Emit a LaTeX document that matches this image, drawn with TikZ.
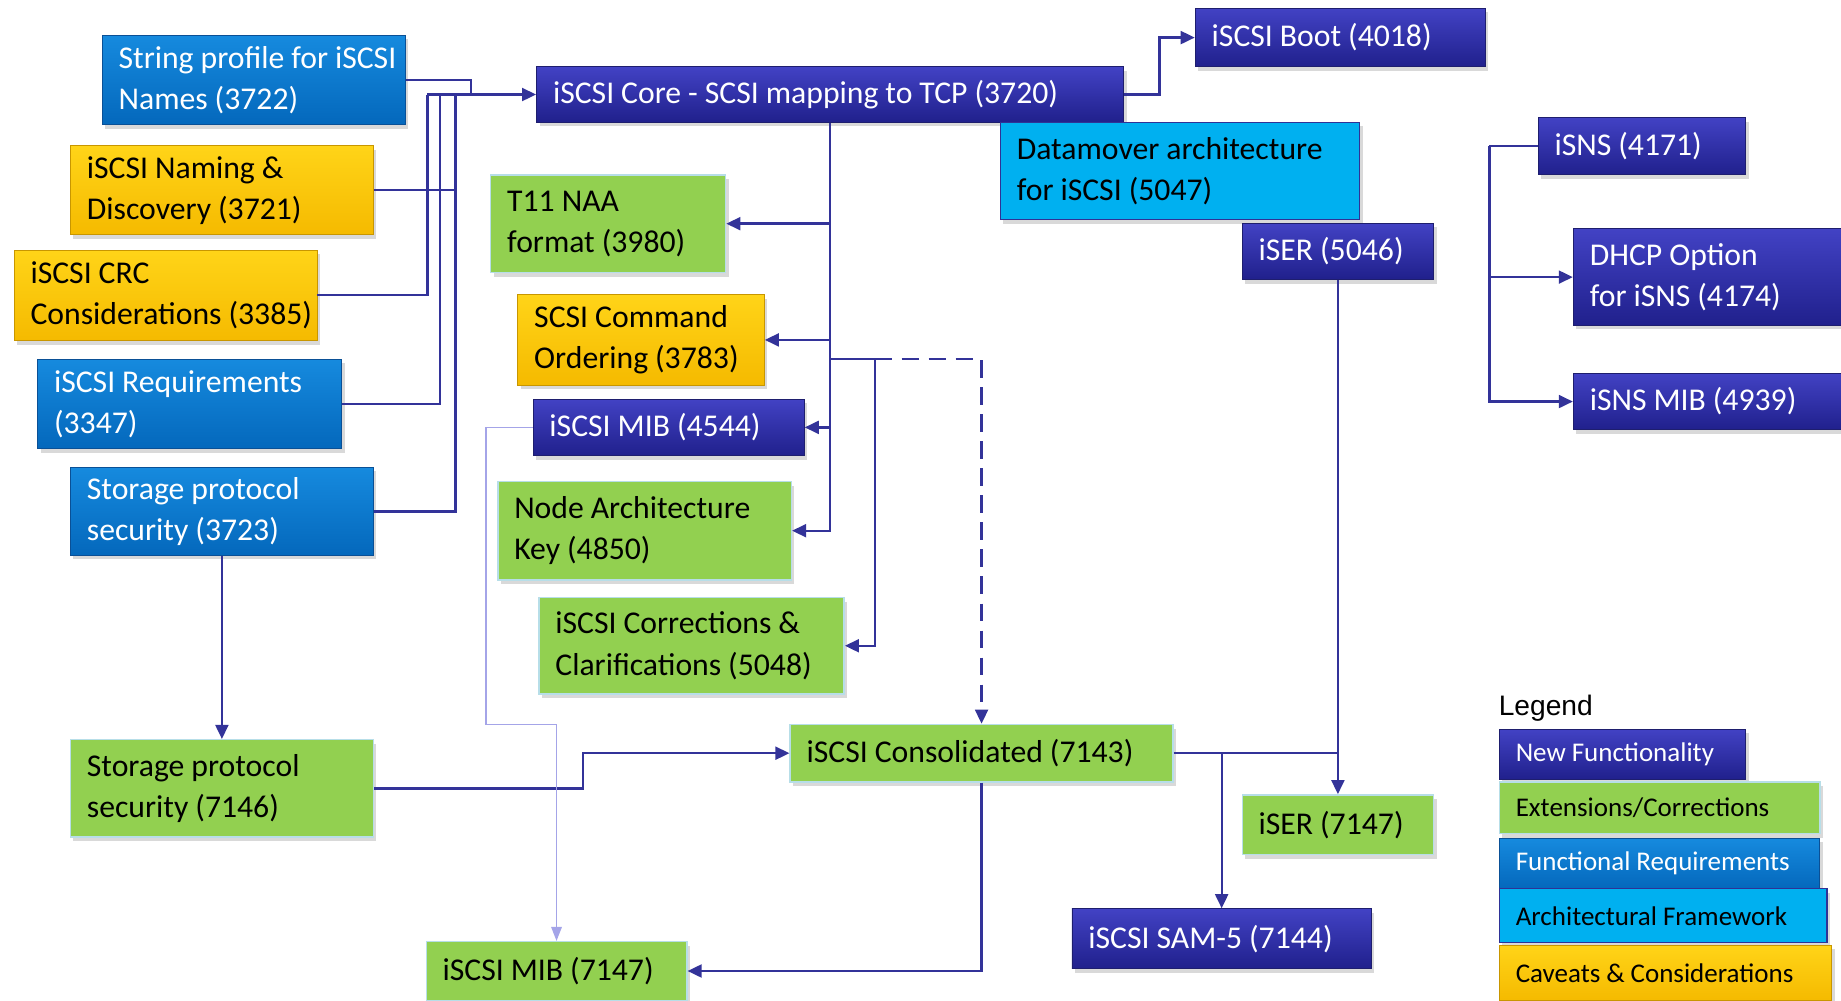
\documentclass[tikz,border=0pt]{standalone}
\usepackage{fontspec}
\setmainfont{Carlito}
\newfontfamily\legendfont{Liberation Sans}
\usepackage{tikz}
\usetikzlibrary{arrows.meta, positioning, calc, shadows}

\definecolor{nfTop}{RGB}{66,66,196}
\definecolor{nfBot}{RGB}{32,32,140}
\definecolor{nfLine}{RGB}{30,30,110}
\definecolor{frTop}{RGB}{22,138,222}
\definecolor{frBot}{RGB}{4,104,188}
\definecolor{frLine}{RGB}{10,80,150}
\definecolor{cvTop}{RGB}{255,212,24}
\definecolor{cvBot}{RGB}{245,186,0}
\definecolor{cvLine}{RGB}{200,150,0}
\definecolor{extGreen}{RGB}{146,208,80}
\definecolor{extLine}{RGB}{183,222,232}
\definecolor{afCyan}{RGB}{0,176,240}
\definecolor{afLine}{RGB}{47,50,150}
\definecolor{lineC}{RGB}{51,51,153}
\definecolor{lavC}{RGB}{164,164,232}

\newcommand\boxfont{\fontsize{27}{35}\selectfont}
\newcommand\legfont{\fontsize{23}{27}\selectfont}

\tikzset{
  box/.style={rectangle, inner xsep=14pt, inner ysep=0pt, align=left, font=\boxfont,
    execute at begin node={\spaceskip=0.22em\relax\hyphenpenalty=10000\relax},
    drop shadow={shadow xshift=2.5pt, shadow yshift=-3.5pt, opacity=0.3}},
  sz/.style 2 args={minimum width=#1pt, minimum height=#2pt, text width=#1pt-28pt},
  newf/.style={box, top color=nfTop, bottom color=nfBot, draw=nfLine, line width=0.8pt, text=white},
  ext/.style={box, fill=extGreen, draw=extLine, line width=1.2pt, text=black},
  func/.style={box, top color=frTop, bottom color=frBot, draw=frLine, line width=0.8pt, text=white},
  arch/.style={box, fill=afCyan, draw=afLine, line width=1pt, text=black},
  cav/.style={box, top color=cvTop, bottom color=cvBot, draw=cvLine, line width=0.8pt, text=black},
  conn/.style={draw=lineC, line width=2pt},
  arr/.style={conn, -{Triangle[length=12pt,width=11pt]}},
  lav/.style={draw=lavC, line width=1.4pt, -{Triangle[length=12pt,width=9pt]}},
}

\begin{document}
\begin{tikzpicture}[x=1pt, y=-1pt]
  \useasboundingbox (0,0) rectangle (1568,852);

  %% Requirements and caveats (left column)
  \node[func, sz={258}{76}] (sp3722)  at (216,68)    {String~profile~for~iSCSI\\Names (3722)};
  \node[cav,  sz={258}{76}] (nd3721)  at (189,162)   {iSCSI Naming \&\\Discovery (3721)};
  \node[cav,  sz={258}{77}] (crc3385) at (141,251.5) {iSCSI CRC\\Considerations~(3385)};
  \node[func, sz={259}{76}] (req3347) at (161.5,344) {iSCSI Requirements\\(3347)};
  \node[func, sz={258}{75}] (sps3723) at (189,435.5) {Storage protocol\\security (3723)};
  \node[ext,  sz={258}{83}] (sps7146) at (189,671.5) {Storage protocol\\security (7146)};

  %% Core and its extensions
  \node[newf, sz={500}{47}] (core)     at (707,80.5)   {iSCSI Core - SCSI mapping to TCP (3720)};
  \node[newf, sz={247}{50}] (boot)     at (1141.5,32)  {iSCSI Boot (4018)};
  \node[arch, sz={306}{83}] (dm5047)   at (1005,145.5) {Datamover~architecture\\for iSCSI (5047)};
  \node[newf, sz={163}{48}] (iser5046) at (1139.5,214) {iSER (5046)};
  \node[ext,  sz={200}{83}] (naa3980)  at (518,190.5)  {T11 NAA\\format (3980)};
  \node[cav,  sz={210}{77}] (sco3783)  at (546,289.5)  {SCSI Command\\Ordering~(3783)};
  \node[newf, sz={231}{48}] (mib4544)  at (569.5,364)  {iSCSI MIB (4544)};
  \node[ext,  sz={250}{84}] (nak4850)  at (549,452)    {Node~Architecture\\Key (4850)};
  \node[ext,  sz={260}{82}] (icc5048)  at (589,550)    {iSCSI~Corrections~\&\\Clarifications~(5048)};

  %% Consolidated documents
  \node[ext,  sz={326}{49}] (cons7143) at (836,641.5)   {iSCSI Consolidated (7143)};
  \node[ext,  sz={163}{51}] (iser7147) at (1139.5,702.5) {iSER (7147)};
  \node[newf, sz={255}{51}] (sam7144)  at (1040.5,799.5) {iSCSI SAM-5 (7144)};
  \node[ext,  sz={222}{50}] (mib7147)  at (474,827)     {iSCSI MIB (7147)};

  %% iSNS
  \node[newf, sz={177}{49}] (isns4171)    at (1398.5,124.5) {iSNS (4171)};
  \node[newf, sz={240}{82}] (dhcp4174)    at (1460,236)     {DHCP Option\\for iSNS (4174)};
  \node[newf, sz={240}{48}] (isnsmib4939) at (1460,342)     {iSNS MIB (4939)};

  %% Legend
  \node[anchor=base west, font=\legendfont\fontsize{24}{28}\selectfont] (legTitle) at (1273,609) {Legend};
  \node[newf, font=\legfont, sz={210}{43}] (legNew)  at (1382,642.5)  {New~Functionality};
  \node[ext,  font=\legfont, sz={273}{44}] (legExt)  at (1413.5,688)  {Extensions/Corrections};
  \node[func, font=\legfont, sz={273}{43}] (legFunc) at (1413.5,735.5) {Functional~Requirements};
  \node[arch, font=\legfont, sz={279}{46}] (legArch) at (1416.5,780)  {Architectural~Framework};
  \node[cav,  font=\legfont, sz={283}{47}] (legCav)  at (1418.5,828.5) {Caveats~\&~Considerations};

  %% Inputs into the core
  \coordinate (busA) at (364,80.5);
  \coordinate (busB) at (375,80.5);
  \coordinate (busC) at (388,80.5);
  \coordinate (busD) at (401,80.5);
  \draw[conn] (sp3722.east) -| (busD);
  \draw[conn] (nd3721.east) -- (nd3721.east -| busC);
  \draw[conn] (crc3385.east) -| (busA);
  \draw[conn] (req3347.east) -| (busB);
  \draw[conn] (sps3723.east) -| (busC);
  \draw[arr] (busA) -- (core.west);

  %% Core stem
  \draw[arr] (core.south) |- (nak4850.east);
  \draw[arr] (core.south |- naa3980.east) -- (naa3980.east);
  \draw[arr] (core.south |- sco3783.east) -- (sco3783.east);
  \draw[arr] (core.south |- mib4544.east) -- (mib4544.east);
  \coordinate (fork)  at (core.south |- 0,306);
  \coordinate (corrX) at (745,306);
  \draw[arr] (fork) -- (corrX) |- (icc5048.east);
  \draw[arr, dash pattern=on 15pt off 8pt] (corrX) -| (cons7143.north);
  \draw[arr] (core.east) -- ++(30,0) |- (boot.west);

  %% Consolidation
  \draw[arr] (sps3723.south) -- (sps7146.north);
  \draw[arr] (sps7146.east) -- ++(178,0) |- (cons7143.west);
  \draw[arr] (cons7143.south) |- (mib7147.east);
  \draw[conn] (cons7143.east) -- (cons7143.east -| iser5046.south);
  \draw[arr] (iser5046.south) -- (iser7147.north);
  \draw[arr] (cons7143.east -| sam7144.north) -- (sam7144.north);
  \coordinate (lavA) at (414,617);
  \draw[lav] (mib4544.west) -| (lavA) -| (mib7147.north);

  %% iSNS family
  \draw[conn] (isns4171.west) -- ++(-41,0) coordinate (isnsX);
  \draw[arr] (isnsX) |- (dhcp4174.west);
  \draw[arr] (isnsX) |- (isnsmib4939.west);
\end{tikzpicture}
\end{document}
